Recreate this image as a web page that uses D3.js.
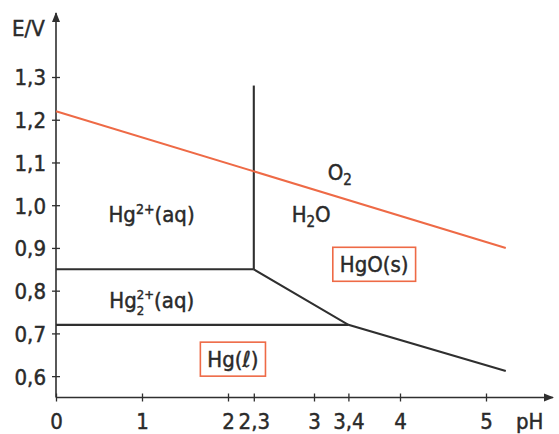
<!DOCTYPE html>
<html>
<head>
<meta charset="utf-8">
<script src="https://cdn.jsdelivr.net/npm/d3@7"></script>
<style>
  html, body { margin: 0; padding: 0; background: #fff; }
  svg text {
    font-family: "Liberation Sans Narrow", "DejaVu Sans Condensed", "Arial Narrow", sans-serif;
    fill: #2a2a2a; stroke: #2a2a2a; stroke-width: 0.45px;
  }
</style>
</head>
<body>
<svg id="chart" width="559" height="434"></svg>
<script>
// Pourbaix (E–pH) diagram for mercury

// axis ticks
const pHTicks = [0, 1, 2, 2.3, 3, 3.4, 4, 5];
const pHTickLabels = ["0", "1", "2", "2,3", "3", "3,4", "4", "5"];
const eTicks = [0.6, 0.7, 0.8, 0.9, 1.0, 1.1, 1.2, 1.3];
const eTickLabels = ["0,6", "0,7", "0,8", "0,9", "1,0", "1,1", "1,2", "1,3"];

// O2 / H2O boundary [pH, E]
const waterLine = [[0, 1.22], [5.23, 0.90]];

// mercury species boundaries [pH, E]
const hg2Boundary = [[0, 0.85], [2.3, 0.85]];               // Hg2+ / Hg2^2+
const hg22Boundary = [[0, 0.72], [3.4, 0.72]];              // Hg2^2+ / Hg(l)
const hgoVertical = [[2.3, 0.85], [2.3, 1.28]];             // Hg2+ / HgO
const hgoSlope = [[2.3, 0.85], [3.4, 0.72], [5.23, 0.612]]; // HgO / Hg2^2+ and HgO / Hg(l)

// region label anchors [pH, E]
const labelO2 = [3.16, 1.06];
const labelH2O = [2.74, 0.96];
const labelHg2 = [0.61, 0.96];
const labelHg22 = [0.62, 0.759];
const labelHgO = [3.30, 0.843];
const labelHgL = [1.76, 0.621];

const svg = d3.select("#chart");
const x = d3.scaleLinear().domain([0, 5]).range([56, 486]);
const y = d3.scaleLinear().domain([0.55, 1.3]).range([397.5, 77]);

const ink = "#2f2f2f";
const red = "#ee6a46";
const fontSize = 22;

// axes
const xAxis = d3.axisBottom(x)
  .tickValues(pHTicks)
  .tickFormat((d, i) => pHTickLabels[i])
  .tickSize(4);
const gx = svg.append("g").attr("transform", `translate(0,${y(0.55)})`).call(xAxis);
gx.select(".domain").remove();
gx.selectAll(".tick line").attr("y1", -4).attr("y2", 4).attr("stroke", ink).attr("stroke-width", 1.3);
gx.selectAll(".tick text").attr("font-size", fontSize).attr("y", 31).attr("dy", 0);

const yAxis = d3.axisLeft(y)
  .tickValues(eTicks)
  .tickFormat((d, i) => eTickLabels[i])
  .tickSize(4)
  .tickPadding(6);
const gy = svg.append("g").attr("transform", `translate(${x(0)},0)`).call(yAxis);
gy.select(".domain").remove();
gy.selectAll(".tick line").attr("x1", -4).attr("x2", 4).attr("stroke", ink).attr("stroke-width", 1.3);
gy.selectAll(".tick text").attr("font-size", fontSize).attr("dy", "0.36em");

// axis lines with arrow heads
const defs = svg.append("defs");
defs.append("marker")
  .attr("id", "arrow")
  .attr("viewBox", "0 0 10 10")
  .attr("refX", 9).attr("refY", 5)
  .attr("markerWidth", 10).attr("markerHeight", 10)
  .attr("markerUnits", "userSpaceOnUse")
  .attr("orient", "auto")
  .append("path").attr("d", "M0,1 L10,5 L0,9 Z").attr("fill", ink);

svg.append("line")
  .attr("x1", x(0)).attr("y1", y(0.55))
  .attr("x2", 553).attr("y2", y(0.55))
  .attr("stroke", ink).attr("stroke-width", 1.6)
  .attr("marker-end", "url(#arrow)");
svg.append("line")
  .attr("x1", x(0)).attr("y1", y(0.55))
  .attr("x2", x(0)).attr("y2", 13)
  .attr("stroke", ink).attr("stroke-width", 1.6)
  .attr("marker-end", "url(#arrow)");

svg.append("text").attr("x", 12).attr("y", 36).attr("font-size", fontSize).text("E/V");
svg.append("text").attr("x", 516).attr("y", 429).attr("font-size", fontSize).text("pH");

// boundaries
const line = d3.line().x(d => x(d[0])).y(d => y(d[1]));
[hg2Boundary, hg22Boundary, hgoVertical, hgoSlope].forEach(seg => {
  svg.append("path").attr("d", line(seg))
    .attr("fill", "none").attr("stroke", ink).attr("stroke-width", 2.1)
    .attr("stroke-linejoin", "miter");
});
svg.append("path").attr("d", line(waterLine))
  .attr("fill", "none").attr("stroke", red).attr("stroke-width", 2);

// layers: frames of the solid phases sit under the labels
const boxLayer = svg.append("g");
const labelLayer = svg.append("g");

function label(pos) {
  return labelLayer.append("text").attr("x", x(pos[0])).attr("y", y(pos[1])).attr("font-size", fontSize);
}
function frame(t) {
  const bb = t.node().getBBox();
  boxLayer.append("rect")
    .attr("x", bb.x - 7).attr("y", bb.y - 5)
    .attr("width", bb.width + 14).attr("height", bb.height + 9)
    .attr("fill", "#fff").attr("stroke", red).attr("stroke-width", 1.6);
}

const tO2 = label(labelO2);
tO2.append("tspan").text("O");
tO2.append("tspan").attr("font-size", 15).attr("dy", 5).text("2");

const tH2O = label(labelH2O);
tH2O.append("tspan").text("H");
tH2O.append("tspan").attr("font-size", 15).attr("dy", 5).text("2");
tH2O.append("tspan").attr("dy", -5).text("O");

const tHg2 = label(labelHg2);
tHg2.append("tspan").text("Hg");
tHg2.append("tspan").attr("font-size", 14).attr("dy", -8).text("2+");
tHg2.append("tspan").attr("dy", 8).text("(aq)");

// Hg2^2+ : subscript 2 stacked under the charge, in one text element
const tHg22 = label(labelHg22);
tHg22.append("tspan").text("Hg");
const sub = tHg22.append("tspan").attr("font-size", 13).attr("dy", 7).text("2");
const subW = sub.node().getComputedTextLength();
tHg22.append("tspan").attr("font-size", 13).attr("dx", -subW).attr("dy", -16).text("2+");
tHg22.append("tspan").attr("dy", 9).text("(aq)");

// framed solid phases
const tHgO = label(labelHgO).text("HgO(s)");
frame(tHgO);
const tHgL = label(labelHgL);
tHgL.append("tspan").text("Hg(");
tHgL.append("tspan").attr("font-style", "italic").text("ℓ");
tHgL.append("tspan").text(")");
frame(tHgL);
</script>
</body>
</html>
